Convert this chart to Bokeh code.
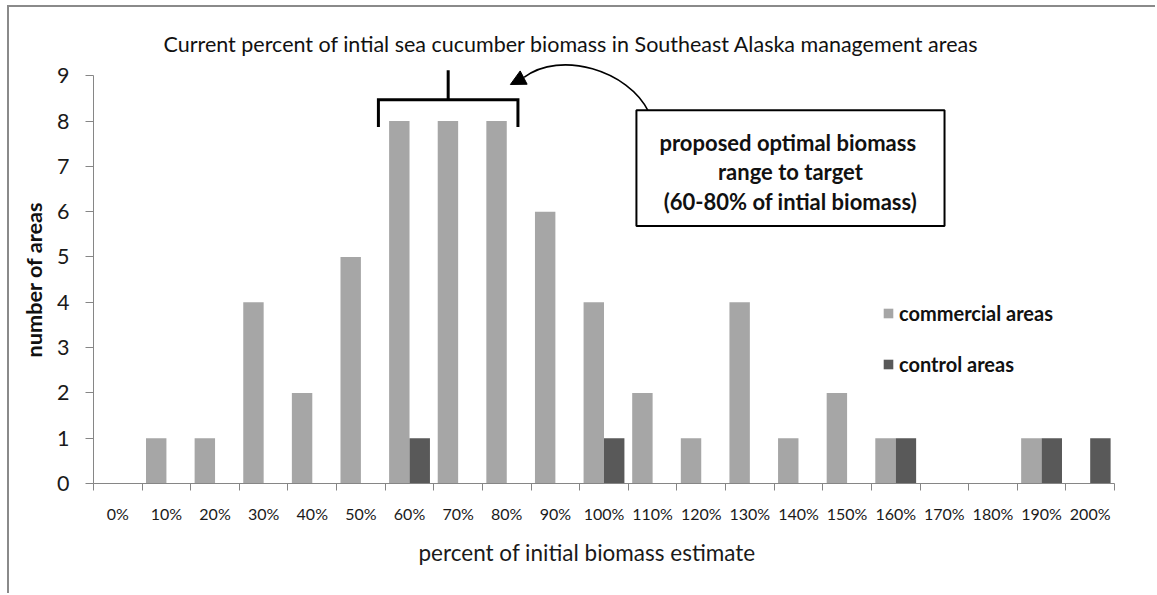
from bokeh.plotting import figure
from bokeh.models import (Range1d, FixedTicker, Label, BoxAnnotation, Legend,
                          LegendItem, Arrow, NormalHead, ColumnDataSource, Title)
from bokeh.transform import dodge
from bokeh.embed import file_html
from bokeh.resources import INLINE

# ---------------- data ----------------
categories = ["0%", "10%", "20%", "30%", "40%", "50%", "60%", "70%", "80%", "90%",
              "100%", "110%", "120%", "130%", "140%", "150%", "160%", "170%",
              "180%", "190%", "200%"]
commercial_areas = [0, 1, 1, 4, 2, 5, 8, 8, 8, 6, 4, 2, 1, 4, 1, 2, 1, 0, 0, 1, 0]
control_areas = [0, 0, 0, 0, 0, 0, 1, 0, 0, 0, 1, 0, 0, 0, 0, 0, 1, 0, 0, 1, 1]
y_ticks = [0, 1, 2, 3, 4, 5, 6, 7, 8, 9]

title_text = "Current percent of intial sea cucumber biomass in Southeast Alaska management areas"
x_title = "percent of initial biomass estimate"
y_title = "number of areas"
box_lines = ["proposed optimal  biomass", "range to target", "(60-80% of intial biomass)"]

FONT = "Lato"
LIGHT = "#A6A6A6"
DARK = "#595959"
AXIS = "#868686"
BAR_W = 0.42

idx = list(range(len(categories)))
src = ColumnDataSource(dict(x=idx, cat=categories,
                            commercial=commercial_areas, control=control_areas))

p = figure(width=1148, height=588,
           x_range=Range1d(-0.5, len(categories) - 0.5),
           y_range=Range1d(0, 9.38),
           output_backend="svg", toolbar_location=None,
           min_border_left=84, min_border_right=43,
           min_border_top=51, min_border_bottom=112)
p.styles = {"margin-left": "7px", "margin-top": "5px",
            "border-left": "2px solid #8a8a8a", "border-top": "2px solid #8a8a8a"}
p.outline_line_color = None
p.xgrid.visible = False
p.ygrid.visible = False
p.background_fill_color = "white"
p.border_fill_color = "white"

r_com = p.vbar(x=dodge("x", -BAR_W / 2, range=p.x_range), top="commercial",
               width=BAR_W, source=src, fill_color=LIGHT, line_color=None)
r_con = p.vbar(x=dodge("x", BAR_W / 2, range=p.x_range), top="control",
               width=BAR_W, source=src, fill_color=DARK, line_color=None)

# ---------------- axes ----------------
xa = p.xaxis[0]
xa.ticker = FixedTicker(ticks=idx, minor_ticks=[i - 0.5 for i in range(len(categories) + 1)])
xa.major_label_overrides = {i: c for i, c in zip(idx, categories)}
xa.major_tick_out = 0
xa.major_tick_in = 0
xa.minor_tick_out = 7
xa.minor_tick_in = 0
xa.minor_tick_line_color = AXIS
xa.axis_line_color = AXIS
xa.major_label_text_font = FONT
xa.major_label_text_font_size = "16px"
xa.major_label_text_color = "#1a1a1a"
xa.major_label_standoff = 13

ya = p.yaxis[0]
ya.ticker = FixedTicker(ticks=y_ticks)
ya.bounds = (0, 9)
ya.major_tick_out = 8
ya.major_tick_in = 0
ya.minor_tick_out = 0
ya.minor_tick_in = 0
ya.major_tick_line_color = AXIS
ya.axis_line_color = AXIS
ya.major_label_text_font = FONT
ya.major_label_text_font_size = "21.5px"
ya.major_label_text_color = "#1a1a1a"
ya.major_label_standoff = 16

# ---------------- titles ----------------
p.title.text = title_text
p.title.align = "left"
p.title.offset = 70
p.title.standoff = 4
p.title.text_font = FONT
p.title.text_font_size = "21.5px"
p.title.text_font_style = "normal"
p.title.text_color = "#111111"

p.add_layout(Title(text=x_title, align="left", offset=325, standoff=23,
                   vertical_align="bottom", text_font=FONT, text_font_size="22.5px",
                   text_font_style="normal", text_color="#1a1a1a"), "below")
p.add_layout(Title(text=y_title, align="left", offset=126, standoff=16,
                   vertical_align="bottom", text_font=FONT, text_font_size="21.7px",
                   text_font_style="bold", text_color="#111111"), "left")

# ---------------- bracket over 60%-80% ----------------
i60 = categories.index("60%")
i80 = categories.index("80%")
bl, br = i60 - 0.64, i80 + 0.23
by, btip, bstem = 8.47, 7.87, 9.12
p.line(x=[bl, bl, br, br], y=[btip, by, by, btip], line_color="black",
       line_width=3, line_join="miter")
p.segment(x0=[(bl + br) / 2], y0=[by], x1=[(bl + br) / 2], y1=[bstem],
          line_color="black", line_width=3)

# ---------------- curved arrow ----------------
p.bezier(x0=[10.92], y0=[8.201], x1=[8.362], y1=[8.967],
         cx0=[10.502], cy0=[9.122], cx1=[9.103], cy1=[9.563],
         line_color="black", line_width=1.6)
p.add_layout(Arrow(end=NormalHead(size=15, fill_color="black", line_color="black"),
                   x_start=8.362, y_start=8.967, x_end=8.074, y_end=8.806,
                   line_color="black", line_width=1.6))

# ---------------- text box ----------------
p.add_layout(BoxAnnotation(left=10.667, right=17.004, top=8.239, bottom=5.685,
                           fill_color="white", fill_alpha=1.0,
                           line_color="black", line_alpha=1.0, line_width=2))
for txt, yy in zip(box_lines, [7.521, 6.875, 6.230]):
    p.add_layout(Label(x=13.835, y=yy, text=txt, text_align="center",
                       text_baseline="alphabetic", text_font=FONT,
                       text_font_size="22px", text_font_style="bold",
                       text_color="#111111"))

# ---------------- legend ----------------
legend = Legend(items=[LegendItem(label="commercial areas", renderers=[r_com]),
                       LegendItem(label="control areas", renderers=[r_con])],
                location=(789, 107), orientation="vertical",
                glyph_width=12, glyph_height=12, label_standoff=5,
                spacing=27, padding=0, margin=0,
                border_line_color=None, background_fill_alpha=0,
                label_text_font=FONT, label_text_font_style="bold",
                label_text_font_size="20px", label_text_color="#111111")
p.add_layout(legend)

open("out.html", "w").write(file_html(p, INLINE))
